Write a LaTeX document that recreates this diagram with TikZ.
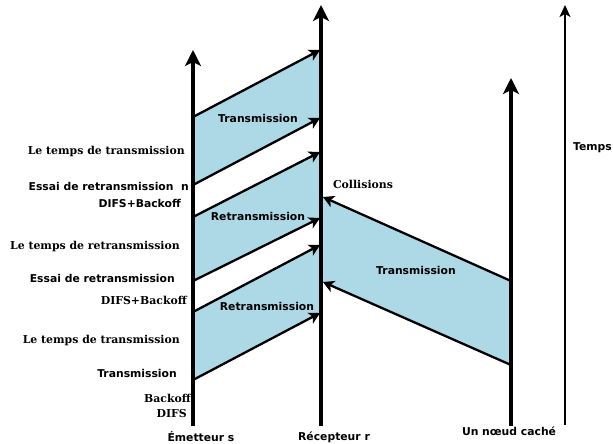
\documentclass[tikz,border=0pt]{standalone}
\usepackage{fontspec}
\setmainfont{DejaVu Serif}
\setsansfont{DejaVu Sans}
\usetikzlibrary{arrows.meta}
\definecolor{paquet}{RGB}{173,216,230}
\tikzstyle{axe} = [line width=3.4pt,
-{Stealth[length=16pt,width=16pt,inset=4pt]}]
\tikzstyle{axetemps} = [line width=1.5pt,
-{Stealth[length=12pt,width=11pt,inset=3pt]}]
\tikzstyle{trame} = [fill=paquet]
\tikzstyle{arrow} = [line width=2.3pt,
-{Stealth[length=11pt,width=12pt,inset=3pt]}]
\tikzstyle{serif} = [inner sep=0pt,
font=\fontsize{10.9}{12}\selectfont\rmfamily\bfseries]
\tikzstyle{sans} = [inner sep=0pt,
font=\fontsize{10.8}{12}\selectfont\sffamily\bfseries]

\begin{document}
\begin{tikzpicture}[x=1pt, y=-1pt]
			\useasboundingbox (0,0) rectangle (613,444);
			
			% axes
			\coordinate (s0) at (193,426);
			\coordinate (sT) at (193,50);
			\coordinate (r0) at (321,426);
			\coordinate (rT) at (321,5);
			\coordinate (h0) at (511,426);
			\coordinate (hT) at (511,78);
			\coordinate (t0) at (565,425);
			\coordinate (tT) at (565,5);
			
			% emetteur
			\coordinate (s1) at (193,380);
			\coordinate (s2) at (193,312);
			\coordinate (s3) at (193,281);
			\coordinate (s4) at (193,217);
			\coordinate (s5) at (193,185);
			\coordinate (s6) at (193,117);
			
			% recepteur
			\coordinate (r1) at (320,313);
			\coordinate (r2) at (320,245);
			\coordinate (r3) at (320,218);
			\coordinate (r4) at (320,152);
			\coordinate (r5) at (320,118);
			\coordinate (r6) at (320,50);
			\coordinate (r7) at (323,197);
			\coordinate (r8) at (323,282);
			
			% noeud cache
			\coordinate (h1) at (511,281);
			\coordinate (h2) at (511,365);
			
			\fill [trame] (s1) -- (r1) -- (r2) -- (s2) -- cycle;
			\fill [trame] (s3) -- (r3) -- (r4) -- (s4) -- cycle;
			\fill [trame] (s5) -- (r5) -- (r6) -- (s6) -- cycle;
			\fill [trame] (r7) -- (h1) -- (h2) -- (r8) -- cycle;
			
			\draw [axe] (s0) -- (sT);
			\draw [axe] (r0) -- (rT);
			\draw [axe] (h0) -- (hT);
			\draw [axetemps] (t0) -- (tT);
			
			\draw [arrow] (s1) -- (r1);
			\draw [arrow] (s2) -- (r2);
			\draw [arrow] (s3) -- (r3);
			\draw [arrow] (s4) -- (r4);
			\draw [arrow] (s5) -- (r5);
			\draw [arrow] (s6) -- (r6);
			\draw [arrow] (h1) -- (r7);
			\draw [arrow] (h2) -- (r8);
			
			\node (tx1) [sans] at (258,118) {Transmission};
			\node (rtx1) [sans] at (258,216) {Retransmission};
			\node (rtx2) [sans] at (267,306) {Retransmission};
			\node (tx2) [sans] at (416,270) {Transmission};
			\node (coll) [serif] at (363,184) {Collisions};
			
			\node (tt1) [serif, anchor=east] at (185,151) {Le temps de transmission};
			\node (er1) [sans, anchor=east] at (189,186) {Essai de retransmission\ \ n};
			\node (db1) [sans, anchor=east] at (181,203) {DIFS+Backoff};
			\node (tr1) [serif, anchor=east] at (180,246) {Le temps de retransmission};
			\node (er2) [sans, anchor=east] at (175,278) {Essai de retransmission};
			\node (db2) [serif, anchor=east] at (187,300) {DIFS+Backoff};
			\node (tt2) [serif, anchor=east] at (180,340) {Le temps de transmission};
			\node (tx0) [sans, anchor=east] at (177,373) {Transmission};
			\node (bo) [serif, anchor=east] at (191,398) {Backoff};
			\node (difs) [serif, anchor=east] at (187,414) {DIFS};
			
			\node (em) [sans] at (201,437) {Émetteur s};
			\node (rec) [sans] at (334,437) {Récepteur r};
			\node (cache) [sans] at (509,431) {Un nœud caché};
			\node (temps) [sans, anchor=east] at (612,148) {Temps};
			
		\end{tikzpicture}
\end{document}
